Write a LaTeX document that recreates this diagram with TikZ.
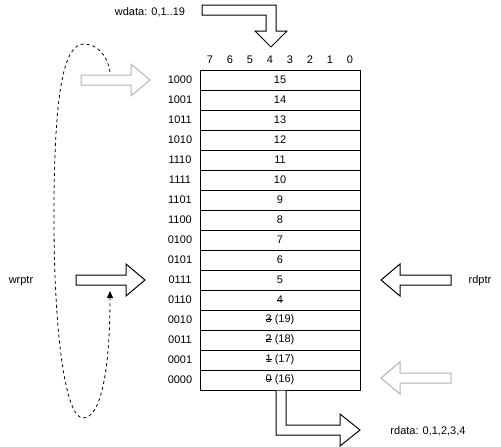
\documentclass[tikz,border=0pt]{standalone}
\usepackage{fontspec}
\setmainfont{Liberation Sans}
\usetikzlibrary{arrows.meta}
\tikzstyle{fat} = [draw=black,fill=white,line width=1pt,line join=miter]
\tikzstyle{ghost} = [fat,draw=gray!60]
\tikzstyle{cell} = [draw,line width=1pt,minimum width=160pt,minimum height=20pt,inner sep=0pt]
\tikzstyle{dashloop} = [line width=0.8pt,dash pattern=on 3pt off 3pt]
% straight fat arrow: tip, shaft length
\newcommand{\fatarr}[3][]{\draw[fat,shift={#2},#1] (0,0) -- (-19,-16) -- (-19,-5) -- (-19-#3,-5) -- (-19-#3,5) -- (-19,5) -- (-19,16) -- cycle;}
% struck out digit
\newcommand{\strk}[1]{\setbox0\hbox{#1}\rlap{\rule[0.33em]{\wd0}{0.6pt}}\box0\relax}

\begin{document}
\begin{tikzpicture}[x=1pt,y=-1pt,font=\fontsize{11}{13}\selectfont]
		\useasboundingbox (0,0) rectangle (501,447);

		% define constants
		\def \mx {280}
		\def \ytop {80}

		% bit numbers
		\foreach \b in {0,...,7}
			\node (bit\b) at (350-20*\b,60) {\b};

		% memory rows
		\foreach \addr/\val [count=\i from 0] in {1000/15,1001/14,1011/13,1010/12,1110/11,1111/10,1101/9,1100/8,0100/7,0101/6,0111/5,0110/{\strk{4}},0010/{\strk{3} (19)},0011/{\strk{2} (18)},0001/{\strk{1} (17)},0000/{\strk{0} (16)}}
		{
			\node[cell] (row\i) at (\mx,\ytop+20*\i) {\val};
			\node (addr\i) at (180,\ytop+20*\i) {\addr};
		}

		% labels
		\node (wdata) at (150,12) {wdata: 0,1..19};
		\node (wrptr) at (21,281) {wrptr};
		\node (rdptr) at (480,281) {rdptr};
		\node (rdata) at (428,431) {rdata: 0,1,2,3,4};

		% pointers
		\fatarr[ghost]{(150,80)}{50}
		\fatarr{(145,280)}{50}
		\fatarr[xscale=-1]{(381,280)}{51}
		\fatarr[ghost,xscale=-1]{(381,378)}{51}

		% write and read data
		\draw[fat] (202,5) -- (276,5) -- (276,31) -- (287,31) -- (271,47) -- (255,31) -- (266,31) -- (266,15) -- (202,15) -- cycle;
		\draw[fat] (row15.south -| 276,0) -- (276,435) -- (340,435) -- (340,446) -- (360,430) -- (340,414) -- (340,425) -- (286,425) -- (row15.south -| 286,0);

		% wrap around
		\coordinate (loopstart) at (110,72);
		\coordinate (loopend) at (110,291);
		\draw[dashloop,-{Triangle[length=7pt,width=6pt]}] (loopstart) .. controls (108,56) and (97,44) .. (84,44) .. controls (64,44) and (55,90) .. (54,200) .. controls (53,330) and (65,418) .. (83,418) .. controls (101,418) and (110,370) .. (loopend);
		\end{tikzpicture}
\end{document}
